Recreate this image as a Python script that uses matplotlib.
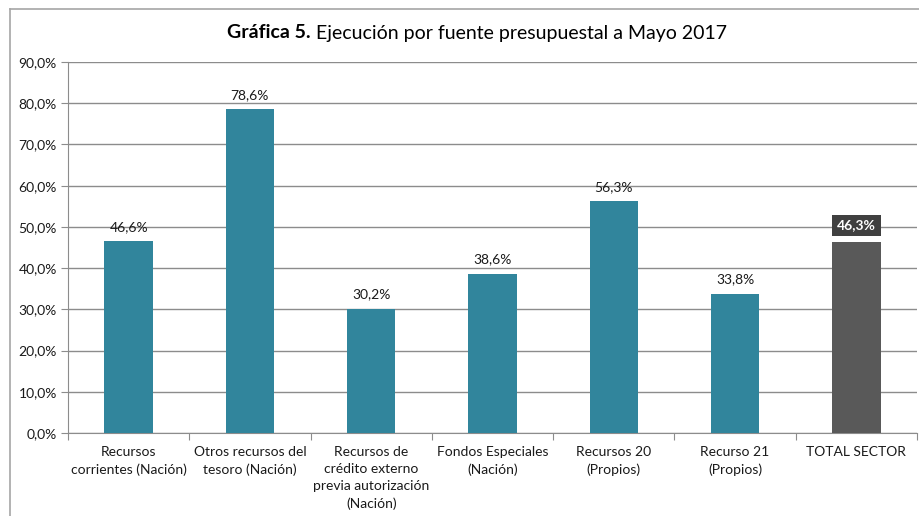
import matplotlib
matplotlib.use("Agg")
import matplotlib.pyplot as plt
from matplotlib.lines import Line2D
import numpy as np

categories = ["Recursos\ncorrientes (Nación)", "Otros recursos del\ntesoro (Nación)",
              "Recursos de\ncrédito externo\nprevia autorización\n(Nación)",
              "Fondos Especiales\n(Nación)", "Recursos 20\n(Propios)", "Recurso 21\n(Propios)",
              "TOTAL SECTOR"]
values = [46.6, 78.6, 30.2, 38.6, 56.3, 33.8, 46.3]
yticks = [0, 10, 20, 30, 40, 50, 60, 70, 80, 90]

plt.rcParams['font.family'] = ['Lato', 'DejaVu Sans']

W, H = 919, 516
fig = plt.figure(figsize=(W/100, H/100), dpi=100)
ax = fig.add_axes([68/W, 83/H, (917-68)/W, (433-62)/H])

x = np.arange(len(values))
colors = ['#31859C'] * (len(values)-1) + ['#595959']
ax.bar(x, values, width=0.4, color=colors, zorder=3)
ax.set_xlim(-0.5, len(values)-0.5)
ax.set_ylim(0, 90)
ax.set_yticks(yticks)
ax.set_yticklabels([f"{v:.1f}%".replace('.', ',') for v in yticks], fontsize=10, color='#1a1a1a')
ax.yaxis.grid(True, color='#8c8c8c', linewidth=1, zorder=0)
ax.tick_params(axis='y', length=5, color='#8c8c8c', pad=3)
for s in ['top', 'right']:
    ax.spines[s].set_visible(False)
ax.spines['left'].set_color('#8c8c8c')
ax.spines['bottom'].set_color('#8c8c8c')

# category labels and boundary ticks
ax.set_xticks(np.arange(len(values)+1) - 0.5)
ax.set_xticklabels([])
ax.tick_params(axis='x', length=5, color='#8c8c8c')
for i, c in enumerate(categories):
    ax.text(i, -3.1, c, ha='center', va='top', fontsize=10, color='#1a1a1a', linespacing=1.5)

for i, v in enumerate(values):
    lab = f"{v:.1f}%".replace('.', ',')
    if i == len(values) - 1:
        ax.text(i, v + 2.6, lab, ha='center', va='bottom', fontsize=10, color='white',
                fontweight='bold', bbox=dict(boxstyle='square,pad=0.35', fc='#404040', ec='none'), zorder=5)
    else:
        ax.text(i, v + 2.0, lab, ha='center', va='bottom', fontsize=10, color='#1a1a1a', zorder=5)

t1 = fig.text(227/W, 1 - 33/H, "Gráfica 5.", ha='left', va='center', fontsize=14, fontweight='bold')
fig.canvas.draw()
bb = t1.get_window_extent()
fig.text((bb.x1 + 5)/W, 1 - 33/H, "Ejecución por fuente presupuestal a Mayo 2017",
         ha='left', va='center', fontsize=14)

fig.add_artist(Line2D([10/W, 1], [1 - 9/H, 1 - 9/H], color='#a6a6a6', lw=1.2, transform=fig.transFigure))
fig.add_artist(Line2D([10/W, 10/W], [0, 1 - 9/H], color='#a6a6a6', lw=1.2, transform=fig.transFigure))

fig.savefig("out.png", dpi=100)
